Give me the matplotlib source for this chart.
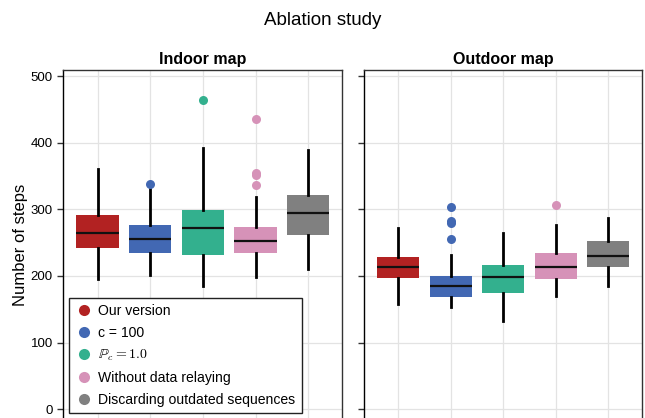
import matplotlib
matplotlib.use("Agg")
import matplotlib.pyplot as plt
from matplotlib.lines import Line2D

plt.rcParams['font.family'] = ['Liberation Sans', 'DejaVu Sans']

labels = ["Our version", "c = 100", r"$\mathbb{P}_c = 1.0$",
          "Without data relaying", "Discarding outdated sequences"]
colors = ['#B22222', '#4268B3', '#33B08E', '#D692B8', '#808080']

# whisker low, q1, median, q3, whisker high, outliers
indoor_wlo = [196, 201, 185, 199, 211]
indoor_q1 = [242, 235, 231, 234, 261]
indoor_med = [265, 256, 272, 252, 294]
indoor_q3 = [291, 276, 299, 273, 322]
indoor_whi = [361, 331, 392, 319, 389]
indoor_fliers = [[], [338], [464], [435, 355, 352, 337], []]

outdoor_wlo = [158, 153, 132, 170, 185]
outdoor_q1 = [197, 168, 174, 195, 214]
outdoor_med = [213, 185, 199, 213, 230]
outdoor_q3 = [229, 200, 217, 235, 253]
outdoor_whi = [272, 232, 264, 276, 287]
outdoor_fliers = [[], [303, 283, 279, 255], [], [307], []]

fig = plt.figure(figsize=(6.45, 4.18), dpi=100)
fig.suptitle("Ablation study", fontsize=13.5, y=0.972)

ax1 = fig.add_axes([0.0981, -0.003, 0.432, 0.8355])
ax2 = fig.add_axes([0.5643, -0.003, 0.431, 0.8355])


def draw(ax, wlo, q1, med, q3, whi, fliers, title):
    pos = list(range(len(wlo)))
    for i in pos:
        st = [dict(whislo=wlo[i], q1=q1[i], med=med[i], q3=q3[i],
                   whishi=whi[i], fliers=fliers[i])]
        ax.bxp(st, positions=[i], widths=0.8, patch_artist=True, showcaps=False,
               boxprops=dict(facecolor=colors[i], edgecolor='none', linewidth=0),
               medianprops=dict(color='#111111', linewidth=1.6),
               whiskerprops=dict(color='black', linewidth=2),
               flierprops=dict(marker='o', markerfacecolor=colors[i],
                               markeredgecolor='none', markersize=6.5),
               zorder=3)
    ax.set_xlim(-0.65, len(wlo) - 0.36)
    ax.set_ylim(-15, 509)
    ax.set_yticks([0, 100, 200, 300, 400, 500])
    ax.set_xticks(pos)
    ax.tick_params(axis='x', length=0, labelbottom=False)
    ax.tick_params(axis='y', length=4, width=1, labelsize=9.5, color='#333333')
    ax.grid(True, color='#E3E3E3', linewidth=0.9, zorder=0)
    ax.set_axisbelow(True)
    for s in ax.spines.values():
        s.set_color('#333333')
        s.set_linewidth(1)
    ax.spines['left'].set_color('black')
    ax.set_title(title, fontsize=11.5, fontweight='bold', pad=4)


draw(ax1, indoor_wlo, indoor_q1, indoor_med, indoor_q3, indoor_whi,
     indoor_fliers, "Indoor map")
draw(ax2, outdoor_wlo, outdoor_q1, outdoor_med, outdoor_q3, outdoor_whi,
     outdoor_fliers, "Outdoor map")
ax2.tick_params(axis='y', labelleft=False)
ax1.set_ylabel("Number of steps", fontsize=12, labelpad=2)

handles = [Line2D([], [], marker='o', linestyle='none', markersize=8,
                  markerfacecolor=c, markeredgecolor='none') for c in colors]
leg = ax1.legend(handles, labels, loc='lower left', bbox_to_anchor=(0.02, 0.018),
                 borderaxespad=0, fontsize=10.1, frameon=True, fancybox=False,
                 edgecolor='#222222', framealpha=1, labelspacing=0.55,
                 handletextpad=0.45, handlelength=1.2, borderpad=0.45)
leg.get_frame().set_linewidth(1)
leg.get_texts()[2].set_math_fontfamily('cm')

fig.savefig("out.png", dpi=100)
